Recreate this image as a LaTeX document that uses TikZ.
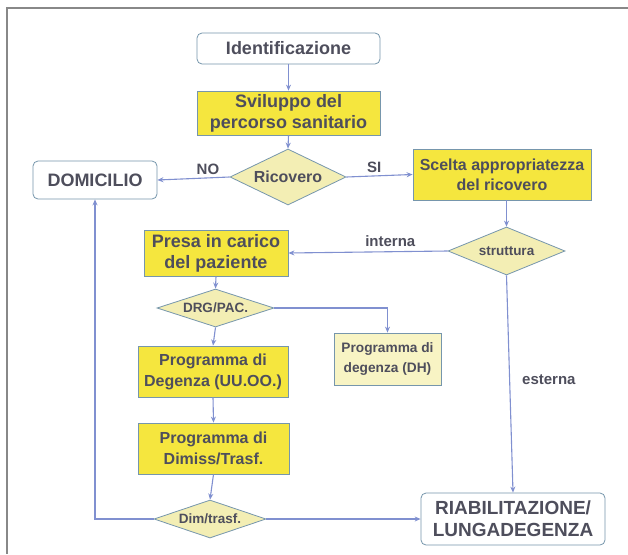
\documentclass[tikz,border=0pt]{standalone}
\usepackage{fontspec}
\setmainfont{Liberation Sans}
\usetikzlibrary{shapes.geometric,arrows.meta}
\definecolor{boxyellow}{RGB}{245,230,62}
\definecolor{paleyellow}{RGB}{243,238,180}
\definecolor{dhyellow}{RGB}{248,244,196}
\definecolor{edgecol}{RGB}{118,150,172}
\definecolor{arrowcol}{RGB}{128,144,208}
\definecolor{txtcol}{RGB}{78,78,92}
\definecolor{framecol}{RGB}{136,136,136}
\newcommand{\zerotext}[1]{\smash{\makebox[0pt]{#1}}}
\begin{document}
\begin{tikzpicture}[x=1pt,y=-1pt,
  every node/.style={text=txtcol,font=\bfseries,inner sep=0pt,align=center},
  base/.style={draw=edgecol,line width=0.8pt},
  roundbox/.style={base,rounded corners=5pt,fill=white},
  yelbox/.style={base,fill=boxyellow},
  dhbox/.style={base,fill=dhyellow},
  decision/.style={base,diamond,fill=paleyellow},
  arr/.style={draw=arrowcol,line width=1.1pt,-{Stealth[length=6pt,width=5pt]}},
  lab/.style={font=\bfseries\fontsize{15}{17}\selectfont}
]
\useasboundingbox (0,0) rectangle (628,554);
\fill[white] (0,0) rectangle (628,554);
\draw[framecol,line width=2pt] (628,7.5) -- (6.5,7.5) -- (6.5,554);

\node[roundbox,minimum width=183pt,minimum height=31pt,font=\bfseries\fontsize{18}{20}\selectfont] (ident) at (288.5,48.5) {Identificazione};
\node[yelbox,minimum width=183pt,minimum height=44pt,font=\bfseries\fontsize{18}{21}\selectfont] (svil) at (288.5,113) {Sviluppo del\\percorso sanitario};
\node[decision,minimum width=116pt,minimum height=56pt,font=\bfseries\fontsize{16}{18}\selectfont] (ric) at (288,177) {\zerotext{\raisebox{-0.35em}{Ricovero}}};
\node[roundbox,minimum width=124pt,minimum height=38pt,font=\bfseries\fontsize{18}{20}\selectfont] (dom) at (95,180) {DOMICILIO};
\node[yelbox,minimum width=178pt,minimum height=51pt,font=\bfseries\fontsize{16}{20}\selectfont] (scelta) at (502,174.5) {Scelta appropriatezza\\del ricovero};
\node[decision,minimum width=117pt,minimum height=48pt,font=\bfseries\fontsize{13.5}{15}\selectfont] (strut) at (506.5,251) {\zerotext{\raisebox{-0.35em}{struttura}}};
\node[yelbox,minimum width=144pt,minimum height=46pt,font=\bfseries\fontsize{18}{21}\selectfont] (presa) at (216,253) {Presa in carico\\del paziente};
\node[decision,minimum width=117pt,minimum height=38pt,font=\bfseries\fontsize{13.5}{15}\selectfont] (drg) at (215.5,308) {\zerotext{\raisebox{-0.35em}{DRG/PAC.}}};
\node[yelbox,minimum width=150pt,minimum height=51pt,font=\bfseries\fontsize{16}{21}\selectfont] (ploc) at (213,371.5) {Programma di\\Degenza (UU.OO.)};
\node[dhbox,minimum width=107pt,minimum height=52pt,font=\bfseries\fontsize{13.7}{20}\selectfont] (dh) at (387.5,359) {Programma di\\degenza (DH)};
\node[yelbox,minimum width=151pt,minimum height=51pt,font=\bfseries\fontsize{16}{21}\selectfont] (pdim) at (213.5,448.5) {Programma di\\Dimiss/Trasf.};
\node[decision,minimum width=112pt,minimum height=38pt,font=\bfseries\fontsize{13.5}{15}\selectfont] (dimt) at (210,519) {\zerotext{\raisebox{-0.35em}{Dim/trasf.}}};
\node[roundbox,minimum width=184pt,minimum height=52pt,font=\bfseries\fontsize{19}{22}\selectfont] (riab) at (513,519) {RIABILITAZIONE/\\LUNGADEGENZA};

\draw[arr] (ident.south) -- (svil.north);
\draw[arr] (svil.south) -- (ric.north);
\draw[arr] (ric.west) -- node[lab,pos=0.3,above=3pt] {NO} (dom.east);
\draw[arr] (ric.east) -- node[lab,pos=0.42,above=3pt] {SI} (scelta.west);
\draw[arr] (scelta.south -| strut.north) -- (strut.north);
\draw[arr] (strut.west) -- node[lab,pos=0.36,above=5pt] {interna} (presa.east);
\draw[arr] (strut.south) -- node[lab,pos=0.48,right=12pt] {esterna} (riab.north);
\draw[arr] (presa.south) -- (drg.north);
\draw[arr] (drg.east) -| (dh.north);
\draw[arr] (drg.south) -- (ploc.north);
\draw[arr] (ploc.south) -- (pdim.north);
\draw[arr] (pdim.south) -- (dimt.north);
\draw[arr] (dimt.east) -- (riab.west);
\draw[arr] (dimt.west) -| (dom.south);
\end{tikzpicture}
\end{document}
